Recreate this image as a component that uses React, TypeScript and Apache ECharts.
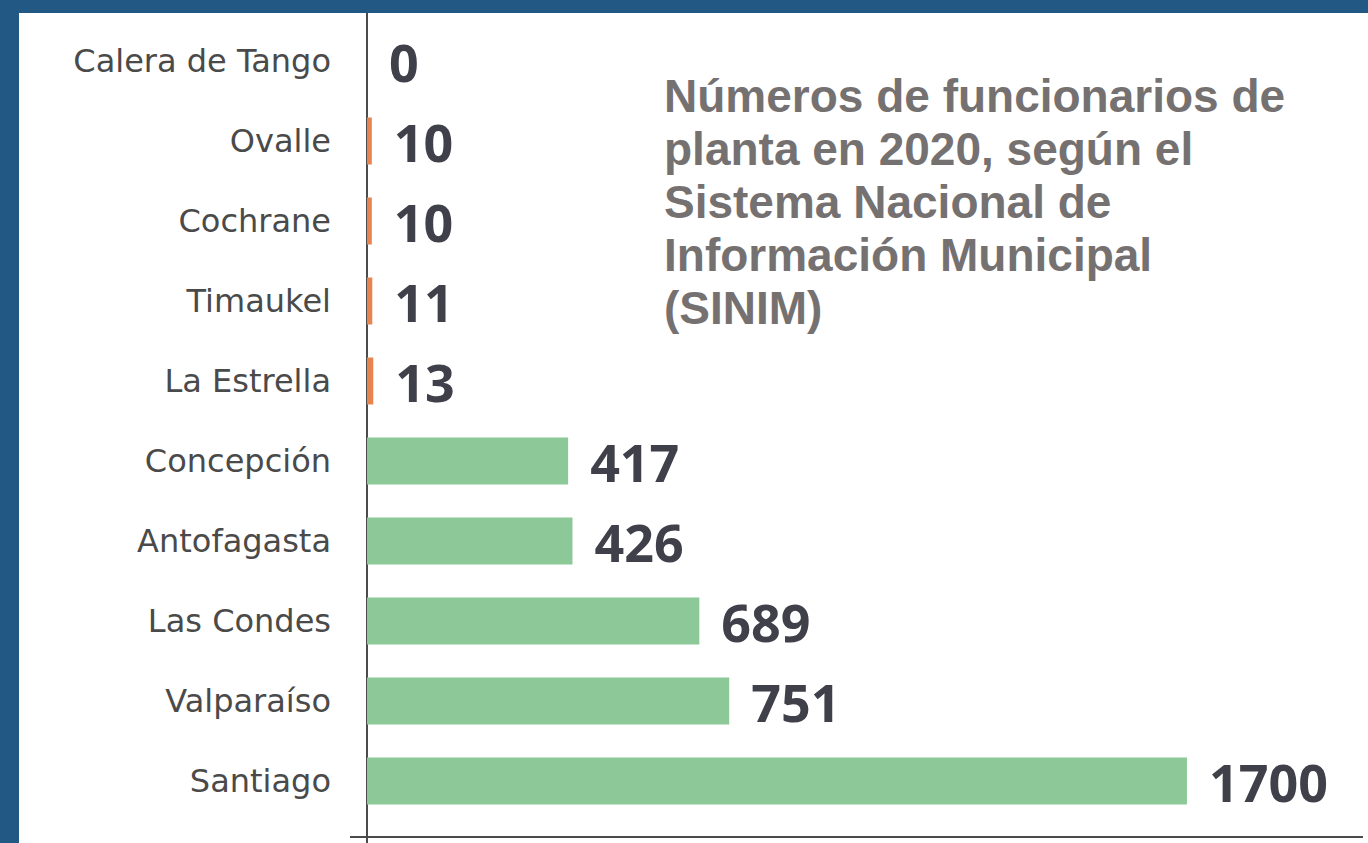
import React, { useEffect, useRef } from "react";
import * as echarts from "echarts";

const categories = [
  "Calera de Tango",
  "Ovalle",
  "Cochrane",
  "Timaukel",
  "La Estrella",
  "Concepción",
  "Antofagasta",
  "Las Condes",
  "Valparaíso",
  "Santiago",
];
const values = [0, 10, 10, 11, 13, 417, 426, 689, 751, 1700];
const titleLines = [
  "Números de funcionarios de",
  "planta en 2020, según el",
  "Sistema Nacional de",
  "Información Municipal",
  "(SINIM)",
];

const GREEN = "#8cc898";
const ORANGE = "#e8844f";
const AXIS = "#4b4b4b";

export default function App() {
  const ref = useRef<HTMLDivElement>(null);
  useEffect(() => {
    if (!ref.current) return;
    const chart = echarts.init(ref.current, null, { renderer: "svg" });
    chart.setOption({
      animation: false,
      backgroundColor: "#ffffff",
      grid: { left: 348, right: 5, top: 8, bottom: 22, containLabel: false },
      xAxis: {
        type: "value",
        min: 0,
        max: 2065,
        axisLine: { show: false },
        axisTick: { show: false },
        axisLabel: { show: false },
        splitLine: { show: false },
      },
      yAxis: {
        type: "category",
        inverse: true,
        data: categories,
        axisLine: { show: false },
        axisTick: { show: false },
        axisLabel: {
          margin: 36,
          fontFamily: "DejaVu Sans",
          fontSize: 32,
          color: "#4a4a4a",
        },
      },
      series: [
        {
          type: "bar",
          data: values,
          barWidth: 47,
          itemStyle: {
            color: (p: any) => (p.value < 100 ? ORANGE : GREEN),
          },
          label: {
            show: true,
            position: "right",
            distance: 22,
            fontFamily: "Open Sans",
            fontWeight: "bold",
            fontSize: 52,
            color: "#3f4049",
          },
        },
      ],
      graphic: [
        {
          type: "line",
          shape: { x1: 348, y1: 0, x2: 348, y2: 830 },
          style: { stroke: AXIS, lineWidth: 2 },
        },
        {
          type: "line",
          shape: { x1: 331, y1: 824, x2: 1344, y2: 824 },
          style: { stroke: AXIS, lineWidth: 2 },
        },
        {
          type: "text",
          left: 645,
          top: 56,
          style: {
            text: titleLines.join("\n"),
            font: 'bold 46px "Liberation Sans"',
            lineHeight: 53,
            fill: "#767171",
          },
        },
      ],
    });
    return () => chart.dispose();
  }, []);
  return (
    <div
      style={{
        position: "fixed",
        left: 0,
        top: 0,
        width: 1368,
        height: 843,
        background: "#215884",
      }}
    >
      <div
        ref={ref}
        style={{
          position: "absolute",
          left: 19,
          top: 13,
          width: 1349,
          height: 830,
        }}
      />
    </div>
  );
}
